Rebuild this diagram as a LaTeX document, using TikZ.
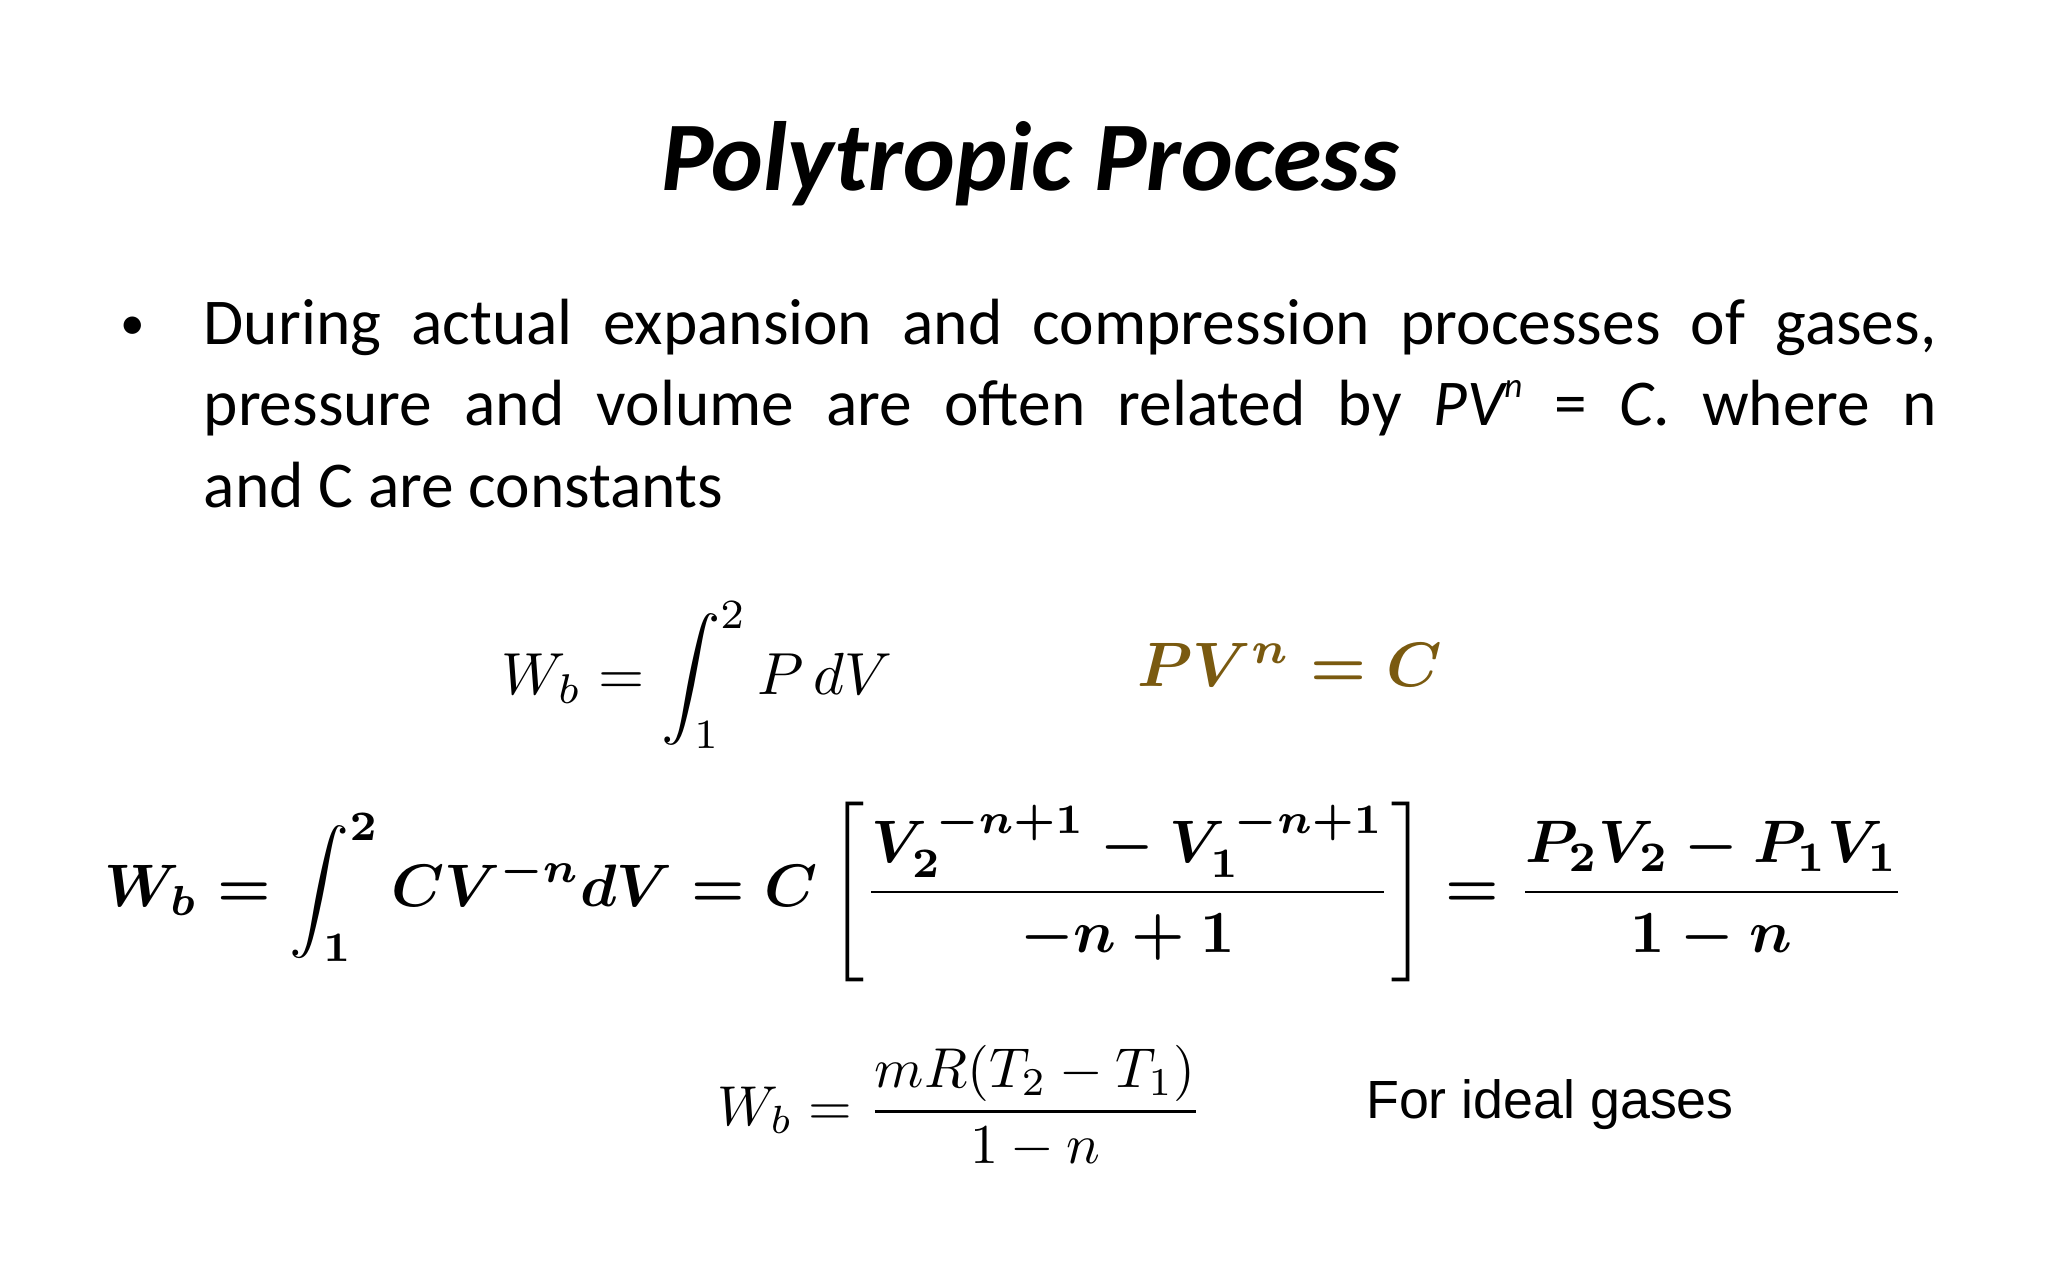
\documentclass[tikz,border=0pt]{standalone}
\usepackage{amsmath}
\usepackage{fontspec}
\setmainfont{Carlito}
\newfontfamily\arialf{Liberation Sans}
\usepackage{graphicx}
\definecolor{gold}{HTML}{7A5A10}
\begin{document}
\begin{tikzpicture}
\useasboundingbox (0,0) rectangle (20.48,12.8);
\tikzset{eq/.style={inner sep=0pt,anchor=center}}
\node[eq,font=\fontsize{28}{34}\selectfont\bfseries\itshape] (title) at (10.3,11.16) {Polytropic Process};
\node[eq,anchor=north west,text width=17.33cm,align=justify,font=\fontsize{18.6}{23.2}\selectfont] (body) at (2.03,9.82)
{\hyphenpenalty=10000 During actual expansion and compression processes of gases,\linebreak pressure and volume are often related by \textit{PV\raisebox{0.9ex}{\fontsize{10}{10}\selectfont n}} = \textit{C}. where n\linebreak and C are constants};
\node[eq,font=\fontsize{14}{23}\selectfont] (bullet) at (1.33,9.52) {•};
\node[eq] (e1) at (6.97,6.05) {\resizebox{3.9cm}{!}{$W_b=\displaystyle\int_1^2 P\,dV$}};
\node[eq,text=gold] (e2) at (12.9,6.15) {\resizebox{3.05cm}{!}{$\boldsymbol{PV^n=C}$}};
\node[eq] (e3) at (10.05,3.88) {\resizebox{18.0cm}{!}{$\boldsymbol{W_b=\displaystyle\int_1^2 CV^{-n}dV=C\left[\dfrac{V_2^{\,-n+1}-V_1^{\,-n+1}}{-n+1}\right]=\dfrac{P_2V_2-P_1V_1}{1-n}}$}};
\node[eq] (e4) at (9.6,1.73) {\resizebox{4.85cm}{!}{$W_b=\dfrac{mR(T_2-T_1)}{1-n}$}};
\node[eq,font=\arialf\fontsize{15.3}{20}\selectfont] (note) at (15.5,1.75) {For ideal gases};
\end{tikzpicture}
\end{document}
